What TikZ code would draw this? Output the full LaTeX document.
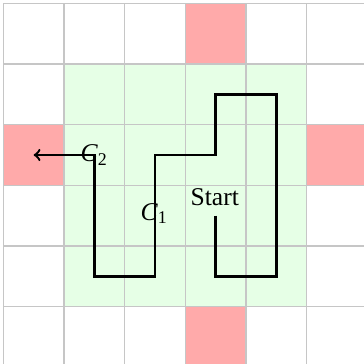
\documentclass[tikz,border=0pt]{standalone}
\usepackage{fontspec}
\setmainfont{Liberation Serif}
\usetikzlibrary{arrows}
\definecolor{pinkcell}{RGB}{255,170,170}
\definecolor{greenarea}{RGB}{230,255,230}
\newcommand{\subidx}[1]{\raisebox{-1.6pt}{\fontsize{8.4}{10}\selectfont #1}}
\tikzset{
  gridline/.style={draw=gray!45, line width=0.5pt},
  route/.style={draw=black, line width=1.1pt},
  lbl/.style={inner sep=0pt, font=\fontsize{12}{14}\selectfont}
}
\begin{document}
\begin{tikzpicture}
\useasboundingbox (-0.055,0.055) rectangle (5.945,6.055);
% fills
\fill[greenarea] (1,1) rectangle (5,5);
\fill[pinkcell] (3,5) rectangle (4,6);
\fill[pinkcell] (0,3) rectangle (1,4);
\fill[pinkcell] (5,3) rectangle (6,4);
\fill[pinkcell] (3,0) rectangle (4,1);
% grid
\draw[gridline] (0,0) grid (6,6);
% route points
\coordinate (p0) at (3.5,2.5);
\coordinate (p1) at (3.5,1.5);
\coordinate (p2) at (4.5,1.5);
\coordinate (p3) at (4.5,4.5);
\coordinate (p4) at (3.5,4.5);
\coordinate (p5) at (3.5,3.5);
\coordinate (p6) at (2.5,3.5);
\coordinate (p7) at (2.5,1.5);
\coordinate (p8) at (1.5,1.5);
\coordinate (p9) at (1.5,3.5);
\coordinate (p10) at (0.5,3.5);
\draw[route,->] (p0) -- (p1) -- (p2) -- (p3) -- (p4) -- (p5) -- (p6) -- (p7) -- (p8) -- (p9) -- (p10);
% labels
\node[lbl, anchor=base] (start) at (3.485,2.675) {Start};
\node[lbl, anchor=base west] (c1) at (2.255,2.42) {\textit{C}\subidx{1}};
\node[lbl, anchor=base west] (c2) at (1.265,3.39) {\textit{C}\subidx{2}};
\end{tikzpicture}
\end{document}
